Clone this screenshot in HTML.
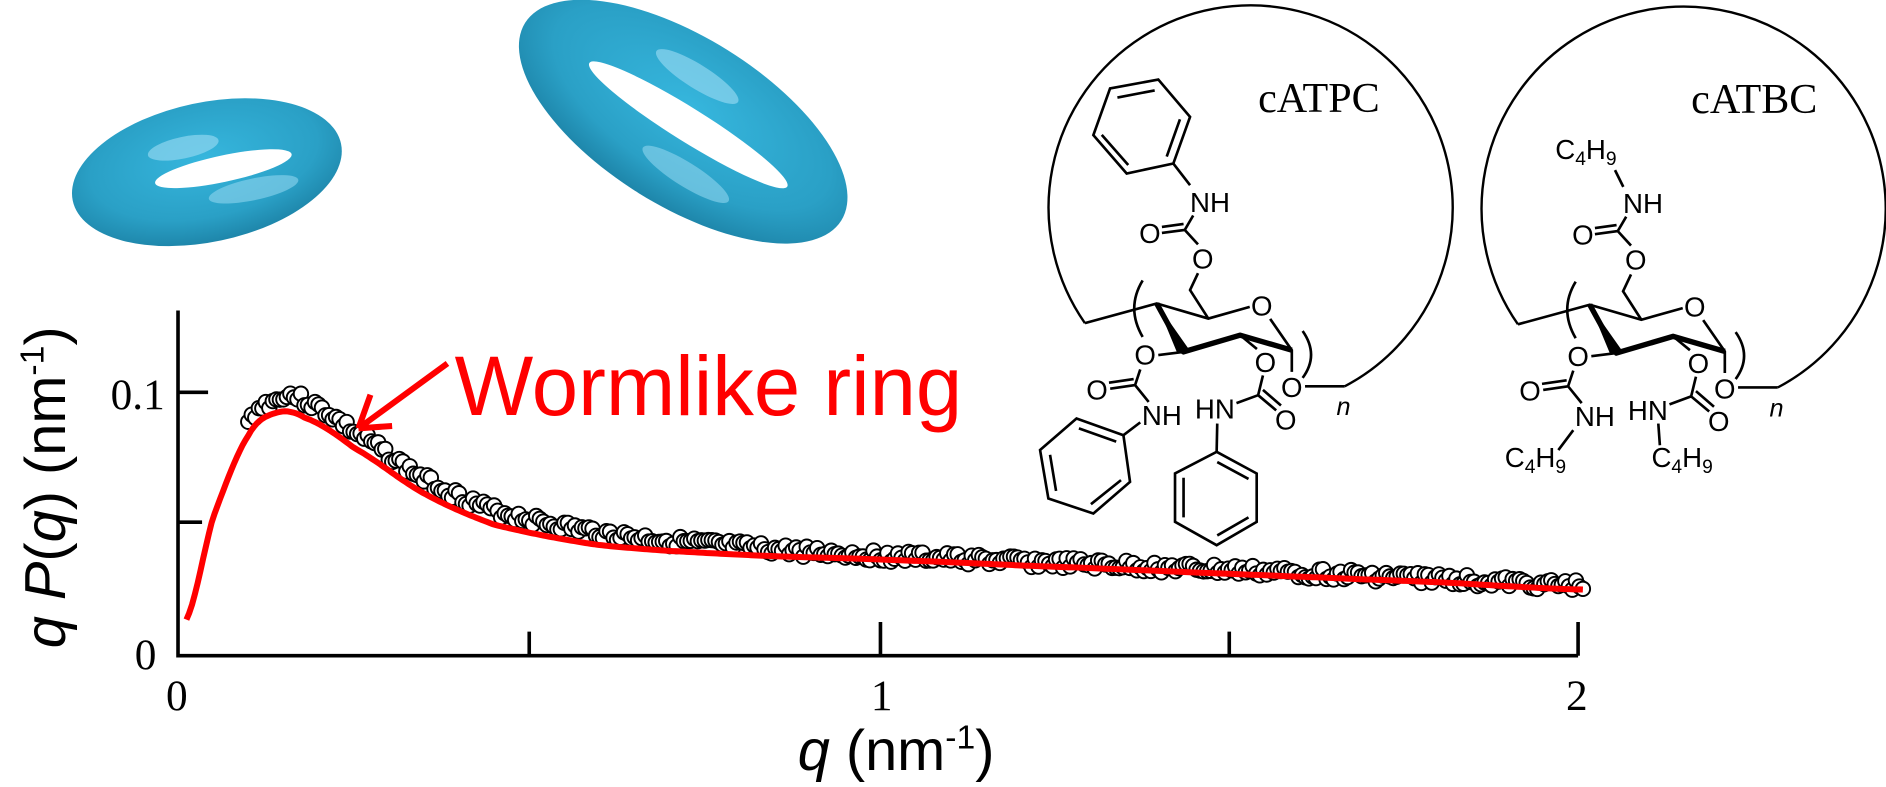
<!DOCTYPE html>
<html><head><meta charset="utf-8"><style>html,body{margin:0;padding:0;background:#fff;}svg{display:block}</style></head>
<body>
<svg id="s" width="1886" height="787" viewBox="0 0 1568 654" xmlns="http://www.w3.org/2000/svg">
<defs>
<radialGradient id="tg" cx="50%" cy="40%" r="60%"><stop offset="0" stop-color="#36b6dd"/><stop offset="0.7" stop-color="#2aa0c6"/><stop offset="1" stop-color="#1e86aa"/></radialGradient>
</defs>
<!-- tori -->
<g transform="translate(172,143) rotate(-12)">
<ellipse rx="114" ry="58" fill="url(#tg)"/>
<ellipse cx="-15" cy="-24" rx="30" ry="9" fill="#8fd6ef" opacity="0.7"/>
<ellipse cx="35" cy="22" rx="38" ry="9" fill="#8fd6ef" opacity="0.6"/>
<ellipse cx="14" cy="0" rx="58" ry="11" fill="#fff"/>
</g>
<g transform="translate(568,101) rotate(32)">
<ellipse rx="155" ry="70" fill="url(#tg)"/>
<ellipse cx="-10" cy="-38" rx="40" ry="10" fill="#8fd6ef" opacity="0.7"/>
<ellipse cx="25" cy="36" rx="42" ry="10" fill="#8fd6ef" opacity="0.6"/>
<ellipse cx="5" cy="0" rx="97" ry="14" fill="#fff"/>
</g>

<!-- axes -->
<g stroke="#000" stroke-width="3" fill="none">
<path d="M148,258 V545 H1312"/>
<path d="M148,326 h25 M148,434 h20"/>
<path d="M440,545 v-20 M732,545 v-28 M1022,545 v-20 M1312,545 v-28"/>
</g>
<g font-family="Liberation Serif, serif" font-size="36" fill="#000">
<text x="92" y="340">0.1</text>
<text x="112" y="556">0</text>
<text x="138" y="590">0</text>
<text x="724" y="590">1</text>
<text x="1302" y="590">2</text>
</g>
<g font-family="Liberation Sans, sans-serif" fill="#000" font-size="48">
<text transform="translate(54,405) rotate(-90)" text-anchor="middle"><tspan font-style="italic">q P</tspan>(<tspan font-style="italic">q</tspan>) (nm<tspan font-size="28" dy="-18">-1</tspan><tspan dy="18">)</tspan></text>
<text x="745" y="640" text-anchor="middle"><tspan font-style="italic">q</tspan> (nm<tspan font-size="28" dy="-18">-1</tspan><tspan dy="18">)</tspan></text>
</g>
<g id="data" fill="#fff" stroke="#000" stroke-width="1.6"></g>
<path id="curve" fill="none" stroke="#f00" stroke-width="5"/>
<text x="378" y="345" font-family="Liberation Sans Narrow, Liberation Sans, sans-serif" font-size="70" fill="#f00" textLength="422" lengthAdjust="spacingAndGlyphs">Wormlike ring</text>
<g stroke="#f00" stroke-width="5" fill="none"><path d="M372,302 L298,356 M298,356 l10,-28 M298,356 l28,-2"/></g>

<!-- chemistry -->
<g stroke="#000" stroke-width="2" fill="none">
<path d="M902,268.5 A168,168 0 1 1 1118,321"/>
<path d="M1262,269.5 A168,168 0 1 1 1478,322"/>
</g>
<g font-family="Liberation Serif, serif" font-size="35" fill="#000">
<text x="1046" y="93">cATPC</text><text x="1406" y="94">cATBC</text>
</g>
<g id="core">
<g stroke="#000" stroke-width="2.2" fill="none">
<path d="M902,268.5 L961.7,252.2 L1004.6,264.7 L1039,255 M1056,265 L1074,291 L1074,309 M1085,321 L1118,321"/>
<path d="M1004.6,264.7 L989.4,241 L996,227 M996,203 L985,191 L992,179 M985,191 L966,193.5 M984,186 L966,188.5"/>
<path d="M983.8,292.4 L963,295 M948,307 L943.7,320 L955,334 M943.7,320 L923,323 M942.5,315 L922,318"/>
<path d="M1031,278.5 L1045,290 M1050,312 L1046,328.4 L1028,335 M1046,328.4 L1061,341 M1050,324 L1065,337"/>
<path d="M950,233 Q936,256 950,280 M1083,275 Q1097,295 1083,314"/>
</g>
<path d="M961.7,252.2 L983.8,292.4 L1031,278.5 L1074,291" stroke="#000" stroke-width="4.5" fill="none" stroke-linejoin="round"/>
<polygon points="961.7,252.2 979,294 989,291" fill="#000"/>
<g font-family="Liberation Sans, sans-serif" font-size="23" fill="#000" text-anchor="middle">
<text x="1049" y="262">O</text><text x="1074" y="330">O</text>
<text x="952" y="303">O</text><text x="1052" y="309">O</text>
<text x="912" y="332">O</text><text x="1069" y="357">O</text>
<text x="956" y="202">O</text><text x="1000" y="223">O</text>
<text x="1006" y="176">NH</text><text x="966" y="353">NH</text><text x="1010" y="348">HN</text>
<text x="1117" y="345" font-style="italic" font-size="21">n</text>
</g>
</g>
<g transform="translate(360,1)">
<g stroke="#000" stroke-width="2.2" fill="none">
<path d="M902,268.5 L961.7,252.2 L1004.6,264.7 L1039,255 M1056,265 L1074,291 L1074,309 M1085,321 L1118,321"/>
<path d="M1004.6,264.7 L989.4,241 L996,227 M996,203 L985,191 L992,179 M985,191 L966,193.5 M984,186 L966,188.5"/>
<path d="M983.8,292.4 L963,295 M948,307 L943.7,320 L955,334 M943.7,320 L923,323 M942.5,315 L922,318"/>
<path d="M1031,278.5 L1045,290 M1050,312 L1046,328.4 L1028,335 M1046,328.4 L1061,341 M1050,324 L1065,337"/>
<path d="M950,233 Q936,256 950,280 M1083,275 Q1097,295 1083,314"/>
</g>
<path d="M961.7,252.2 L983.8,292.4 L1031,278.5 L1074,291" stroke="#000" stroke-width="4.5" fill="none" stroke-linejoin="round"/>
<polygon points="961.7,252.2 979,294 989,291" fill="#000"/>
<g font-family="Liberation Sans, sans-serif" font-size="23" fill="#000" text-anchor="middle">
<text x="1049" y="262">O</text><text x="1074" y="330">O</text>
<text x="952" y="303">O</text><text x="1052" y="309">O</text>
<text x="912" y="332">O</text><text x="1069" y="357">O</text>
<text x="956" y="202">O</text><text x="1000" y="223">O</text>
<text x="1006" y="176">NH</text><text x="966" y="353">NH</text><text x="1010" y="348">HN</text>
<text x="1117" y="345" font-style="italic" font-size="21">n</text>
</g>
</g>
<!-- phenyls (mol1) -->
<g stroke="#000" stroke-width="2.2" fill="none">
<polygon points="922.9,73.4 963,66 989.4,97 975.5,135.8 936.7,144.1 909,112.2"/>
<path d="M929,81 L960,75 M981,99 L970,130 M938,137 L916,112 M975.5,135.8 L989.4,153.8"/>
<polygon points="895,347.8 934,361.7 939.5,400.5 909,426.8 871.6,414.3 864.7,374"/>
<path d="M897,356 L928,367 M932,399 L907,419 M873,378 L878,408 M934,361.7 L948,351"/>
<polygon points="1011.5,375.5 1044.8,393.5 1044.8,433.7 1011.5,453.1 976.9,433.7 976.9,393.5"/>
<path d="M1012,384 L1038,398 M1038,430 L1012,445 M984,397 L984,430 M1011.5,375.5 L1012,352"/>
<path d="M1342.7,141.3 L1349.6,155.2 M1308,357.5 L1295.6,374 M1378.7,352 L1380,370"/>
</g>
<g font-family="Liberation Sans, sans-serif" font-size="23" fill="#000">
<text x="1293" y="132">C<tspan font-size="16" dy="5">4</tspan><tspan dy="-5">H</tspan><tspan font-size="16" dy="5">9</tspan></text>
<text x="1251" y="388">C<tspan font-size="16" dy="5">4</tspan><tspan dy="-5">H</tspan><tspan font-size="16" dy="5">9</tspan></text>
<text x="1373" y="388">C<tspan font-size="16" dy="5">4</tspan><tspan dy="-5">H</tspan><tspan font-size="16" dy="5">9</tspan></text>
</g>
</svg>
<script>
var ctl=[[0.012,515],[0.05,430],[0.1,362],[0.14,343],[0.18,347],[0.25,372],[0.35,410],[0.45,436],[0.6,453],[0.8,461],[1.0,465],[1.2,470],[1.5,477],[1.8,484],[2,490]];
function cr(p0,p1,p2,p3,t){var t2=t*t,t3=t2*t;return 0.5*((2*p1)+(-p0+p2)*t+(2*p0-5*p1+4*p2-p3)*t2+(-p0+3*p1-3*p2+p3)*t3);}
function f(q){var n=ctl.length;for(var i=0;i<n-1;i++){if(q<=ctl[i+1][0]){var a=ctl[i],b=ctl[i+1],t=(q-a[0])/(b[0]-a[0]);var p0=ctl[Math.max(i-1,0)][1],p3=ctl[Math.min(i+2,n-1)][1];return cr(p0,a[1],b[1],p3,t);}}return 490;}
var d='';for(var q=0.012;q<=2.001;q+=0.004){d+=(d?'L':'M')+(148+584*q).toFixed(1)+','+f(q).toFixed(1);}
document.getElementById('curve').setAttribute('d',d);
var g=document.getElementById('data'),s='',seed=3;function r(){seed=(seed*9301+49297)%233280;return seed/233280-0.5;}
for(var q=0.1;q<=2.0;q+=0.005){var off=q<0.15?-10:q<0.6?-14+(q-0.15)*8:q<1?-10+(q-0.6)*18:-3;var y=f(q)+off+r()*9;s+='<circle cx="'+(148+584*q).toFixed(1)+'" cy="'+y.toFixed(1)+'" r="6"/>';}
g.innerHTML=s;
</script>
</body></html>
